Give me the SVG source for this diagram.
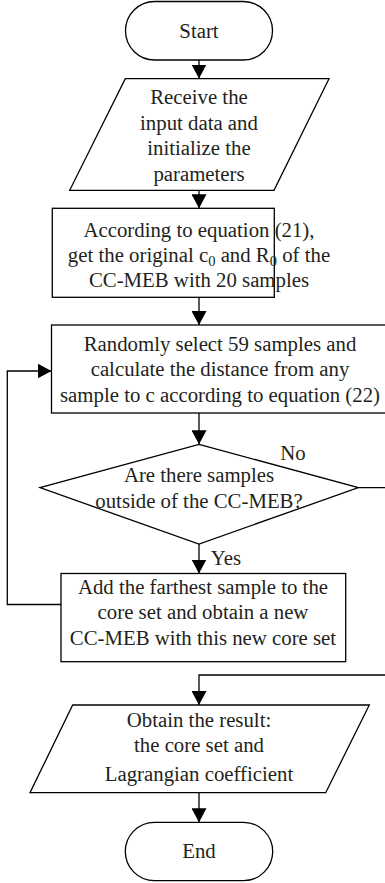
<svg xmlns="http://www.w3.org/2000/svg" width="385" height="883" viewBox="0 0 385 883">
<style>
.s{fill:#fff;stroke:#000;stroke-width:1.3}
.l{fill:none;stroke:#000;stroke-width:1.3}
text{font-family:"Liberation Serif","Times New Roman",serif;font-size:20.8px;fill:#231f20;text-anchor:middle}
.sub{font-size:14.5px}
</style>
<defs>
<marker id="ah" markerWidth="14" markerHeight="15" refX="14" refY="7.5" orient="auto" markerUnits="userSpaceOnUse">
<path d="M0,0 L14,7.5 L0,15 Z" fill="#000"/>
</marker>
</defs>
<g id="connectors">
<path class="l" d="M199,60 V78.5" marker-end="url(#ah)"/>
<path class="l" d="M199,190.5 V208.3" marker-end="url(#ah)"/>
<path class="l" d="M199,297.3 V325" marker-end="url(#ah)"/>
<path class="l" d="M199,413 V444.3" marker-end="url(#ah)"/>
<path class="l" d="M199,544 V573.5" marker-end="url(#ah)"/>
<path class="l" d="M61,604.5 H7.3 V371 H51.5" marker-end="url(#ah)"/>
<path class="l" d="M358.3,487.7 H387 V675 H199 V705" marker-end="url(#ah)"/>
<path class="l" d="M199,792.7 V822.3" marker-end="url(#ah)"/>
<text x="293" y="460">No</text>
<text x="226" y="565">Yes</text>
</g>
<g id="start">
<rect class="s" x="125.5" y="1.5" width="147" height="58.5" rx="29.25"/>
<text x="199" y="37.5">Start</text>
</g>
<g id="input">
<polygon class="s" points="125.3,78.7 329,78.7 274,190.3 69.7,190.3"/>
<text x="199" y="104">Receive the</text>
<text x="199" y="129.5">input data and</text>
<text x="199" y="155">initialize the</text>
<text x="199" y="180.5">parameters</text>
</g>
<g id="init">
<rect class="s" x="52.3" y="208.3" width="222" height="89"/>
<text x="199" y="236.5">According to equation (21),</text>
<text x="199" y="261.5">get the original c<tspan class="sub" dy="4">0</tspan><tspan dy="-4"> and R</tspan><tspan class="sub" dy="4">0</tspan><tspan dy="-4"> of the</tspan></text>
<text x="199" y="286.5">CC-MEB with 20 samples</text>
</g>
<g id="select">
<rect class="s" x="51.5" y="325" width="337" height="88"/>
<text x="220" y="351">Randomly select 59 samples and</text>
<text x="220" y="376">calculate the distance from any</text>
<text x="220" y="401.5">sample to c according to equation (22)</text>
</g>
<g id="decision">
<polygon class="s" points="199,444.3 358.3,487.7 199,544 40,487.7"/>
<text x="199" y="482">Are there samples</text>
<text x="199" y="508">outside of the CC-MEB?</text>
</g>
<g id="add">
<rect class="s" x="61" y="573.5" width="284.7" height="88.2"/>
<text x="203" y="593.5">Add the farthest sample to the</text>
<text x="203" y="619">core set and obtain a new</text>
<text x="203" y="644.5">CC-MEB with this new core set</text>
</g>
<g id="result">
<polygon class="s" points="72.7,705 369.3,705 325.7,792.7 30,792.7"/>
<text x="199" y="727">Obtain the result:</text>
<text x="199" y="752">the core set and</text>
<text x="199" y="781">Lagrangian coefficient</text>
</g>
<g id="end">
<rect class="s" x="125.3" y="822.3" width="147.4" height="58.4" rx="29.2"/>
<text x="199" y="858">End</text>
</g>
</svg>
